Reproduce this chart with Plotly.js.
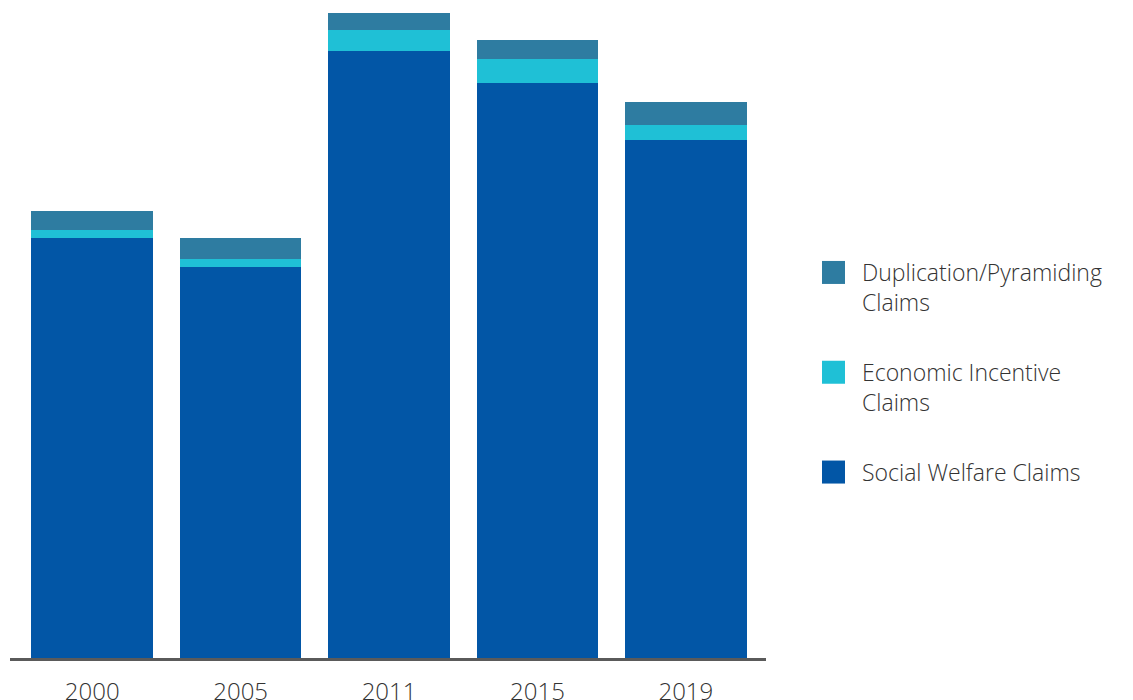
<!DOCTYPE html>
<html>
<head>
<meta charset="utf-8">
<script src="https://cdn.plot.ly/plotly-3.0.1.min.js"></script>
<style>html,body{margin:0;padding:0;background:#fff;}#chart{width:1133px;height:700px;}</style>
</head>
<body>
<div id="chart"></div>
<script>
// Data (arbitrary units)
const years = ['2000', '2005', '2011', '2015', '2019'];
const socialWelfare = [420, 391, 607, 575, 518];
const economicIncentive = [8, 8, 21, 24, 15];
const duplicationPyramiding = [19, 21, 17, 19, 23];
const seriesNames = ['Social Welfare Claims', 'Economic Incentive<br>Claims', 'Duplication/Pyramiding<br>Claims'];
const seriesColors = ['#0256A6', '#1FC0D6', '#2E7CA1'];
const seriesValues = [socialWelfare, economicIncentive, duplicationPyramiding];

const traces = seriesValues.map((vals, i) => ({
  type: 'bar',
  x: years,
  y: vals,
  name: seriesNames[i],
  legendgroup: 'g' + i,
  legendrank: 1000 - i,
  marker: {color: seriesColors[i], line: {width: 0}},
  hoverinfo: 'x+y+name'
}));

const layout = {
  width: 1133,
  height: 700,
  barmode: 'stack',
  bargap: 0.18,
  margin: {l: 10, r: 367, t: 10, b: 42, pad: 0},
  paper_bgcolor: '#ffffff',
  plot_bgcolor: '#ffffff',
  font: {family: '"Open Sans", "Noto Sans", sans-serif', color: '#333333', size: 23, weight: 300},
  xaxis: {
    type: 'category',
    range: [-0.554, 4.54],
    showline: true,
    linecolor: '#5a5a5a',
    linewidth: 2.5,
    showgrid: false,
    zeroline: false,
    ticks: '',
    tickfont: {size: 24, color: '#333333', weight: 300},
    ticklabelstandoff: 11,
    fixedrange: true
  },
  yaxis: {
    range: [0, 648],
    visible: false,
    showgrid: false,
    zeroline: false,
    fixedrange: true
  },
  showlegend: true,
  legend: {
    xref: 'container',
    yref: 'container',
    x: 822 / 1133,
    y: 1 - 251 / 700,
    xanchor: 'left',
    yanchor: 'top',
    traceorder: 'grouped',
    tracegroupgap: 37,
    valign: 'top',
    font: {size: 23, color: '#333333', weight: 300},
    bgcolor: 'rgba(0,0,0,0)'
  }
};

Plotly.newPlot('chart', traces, layout, {displayModeBar: false, staticPlot: true}).then(() => {
  document.querySelectorAll('.legendpoints path').forEach(p => {
    p.setAttribute('d', 'M3,11.5H-20V-11.5H3Z');
  });
});
</script>
</body>
</html>
